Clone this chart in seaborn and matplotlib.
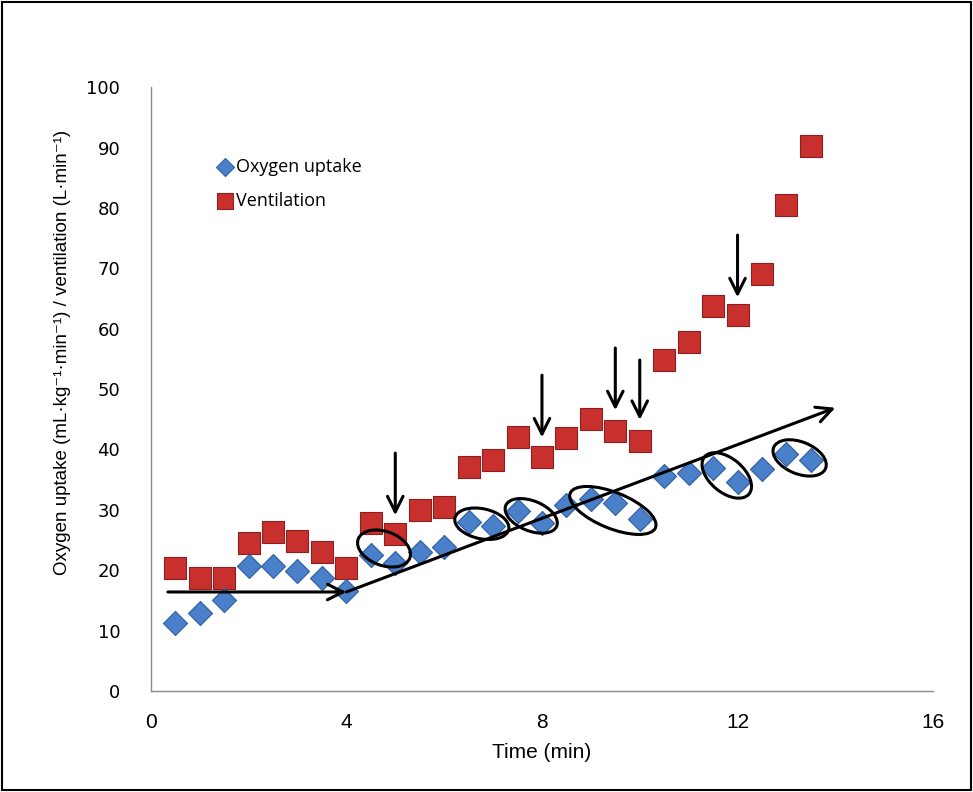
import numpy as np
import pandas as pd
import seaborn as sns
import matplotlib.pyplot as plt
from matplotlib.patches import Ellipse, Rectangle
from matplotlib.transforms import ScaledTranslation

# Data
time_min = [0.5, 1.0, 1.5, 2.0, 2.5, 3.0, 3.5, 4.0, 4.5, 5.0, 5.5, 6.0, 6.5, 7.0,
            7.5, 8.0, 8.5, 9.0, 9.5, 10.0, 10.5, 11.0, 11.5, 12.0, 12.5, 13.0, 13.5]
oxygen_uptake = [11.3, 12.9, 15.1, 20.7, 20.7, 19.9, 18.7, 16.6, 22.5, 21.2, 23.0, 23.8, 28.0, 27.3,
                 29.8, 27.8, 30.8, 31.8, 31.1, 28.5, 35.6, 36.1, 36.9, 34.6, 36.8, 39.2, 38.2]
ventilation = [20.4, 18.7, 18.7, 24.5, 26.3, 24.8, 23.0, 20.4, 27.8, 26.0, 30.0, 30.5, 37.1, 38.2,
               42.1, 38.7, 41.9, 45.0, 43.0, 41.4, 54.8, 57.8, 63.7, 62.3, 69.0, 80.5, 90.2]

# annotation arrows: vertical arrows (x, y_start, y_end)
vert_arrows = [(5.0, 39.4, 29.1), (8.0, 52.3, 42.0), (9.5, 56.8, 46.5),
               (10.0, 54.8, 44.9), (12.0, 75.5, 65.2)]
# trend arrows (x0, y0, x1, y1)
trend_arrows = [(0.35, 16.4, 4.0, 16.4), (4.0, 16.4, 14.0, 46.9)]
# ellipses (center x, center y, width px, height px, angle)
ellipses = [(4.77, 23.6, 55, 34, -20), (6.77, 27.7, 55, 30, -12), (7.78, 29.0, 55, 30, -22),
            (9.45, 29.9, 92, 36, -22), (11.78, 35.7, 58, 34, -40), (13.27, 38.6, 56, 32, -22)]

df = pd.DataFrame({"Time": time_min, "Oxygen uptake": oxygen_uptake, "Ventilation": ventilation})

sns.set_style("white")
plt.rcParams['font.family'] = ['Liberation Sans', 'DejaVu Sans']

fig = plt.figure(figsize=(9.73, 7.92), dpi=100)
ax = fig.add_axes([0.155, 0.1275, 0.804, 0.7625])

sns.scatterplot(data=df, x="Time", y="Ventilation", marker="s", s=250, color="#c8302e",
                edgecolor="#8e1f1e", linewidth=0.8, label="Ventilation", ax=ax, zorder=3)
sns.scatterplot(data=df, x="Time", y="Oxygen uptake", marker="D", s=150, color="#4a80c9",
                edgecolor="#2f5f9e", linewidth=0.8, label="Oxygen uptake", ax=ax, zorder=4)

ax.set_xlim(0, 16)
ax.set_ylim(0, 100)
ax.set_xticks([0, 4, 8, 12, 16])
ax.set_yticks(range(0, 101, 10))
sns.despine(ax=ax)
for side in ["left", "bottom"]:
    ax.spines[side].set_color("#8c8c8c")
    ax.spines[side].set_linewidth(1.0)
ax.tick_params(axis="x", length=0, pad=16, labelsize=15, labelcolor="black")
ax.tick_params(axis="y", length=0, pad=22, labelsize=13, labelcolor="black")
for lab in ax.get_yticklabels():
    lab.set_fontfamily("DejaVu Sans")

ax.set_xlabel("Time (min)", fontsize=15, labelpad=8, color="black")
ax.set_ylabel("Oxygen uptake (mL·kg⁻¹·min⁻¹) / ventilation (L·min⁻¹)", fontsize=13.5,
              color="black")
ax.yaxis.set_label_coords(-0.102, 0.56)

# arrows
for x, y0, y1 in vert_arrows:
    ax.annotate("", xy=(x, y1), xytext=(x, y0),
                arrowprops=dict(arrowstyle="->", lw=2.2, color="black", mutation_scale=28,
                                shrinkA=0, shrinkB=0), zorder=5)
for x0, y0, x1, y1 in trend_arrows:
    ax.annotate("", xy=(x1, y1), xytext=(x0, y0),
                arrowprops=dict(arrowstyle="->", lw=2.2, color="black", mutation_scale=28,
                                shrinkA=0, shrinkB=0), zorder=5)

# ellipses drawn in pixel units around data points
for cx, cy, w, h, ang in ellipses:
    tr = fig.dpi_scale_trans + ScaledTranslation(cx, cy, ax.transData)
    ax.add_patch(Ellipse((0, 0), w / 100, h / 100, angle=ang, fill=False, lw=2.2,
                         edgecolor="black", transform=tr, zorder=6))

# legend
handles, labels = ax.get_legend_handles_labels()
order = [1, 0]
ax.legend([handles[i] for i in order], [labels[i] for i in order], loc="upper left",
          bbox_to_anchor=(0.06, 0.91), frameon=False, markerscale=0.75,
          handletextpad=0.0, handlelength=1.2, labelspacing=0.9, labelcolor="black",
          prop={"family": ["Open Sans", "DejaVu Sans"], "size": 13})

# border around the figure
fig.patches.append(Rectangle((0.002, 0.002), 0.996, 0.996, transform=fig.transFigure,
                             fill=False, edgecolor="black", lw=1.5))

fig.savefig("out.png", dpi=100)
